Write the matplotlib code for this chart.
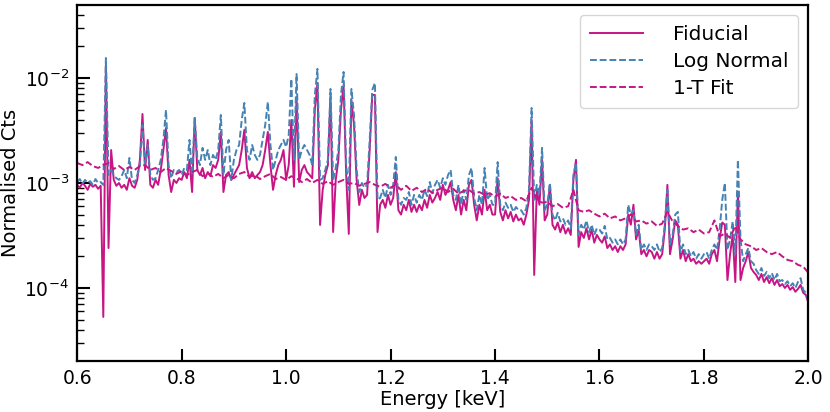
import numpy as np
import matplotlib
matplotlib.use("Agg")
import matplotlib.pyplot as plt

# energy grid of the spectra (keV), 5 eV steps for the two model spectra
energy = np.round(np.arange(0.600, 2.0001, 0.005), 3)
# 1-T fit read on a coarser 10 eV grid
energy_fit = np.round(np.arange(0.60, 2.0001, 0.01), 2)

fiducial = [
    9.6e-4, 9.0e-4, 1.0e-3, 9.4e-4, 8.6e-4, 9.8e-4, 9.2e-4, 9.6e-4, 8.8e-4, 9.4e-4,
    5.3e-5, 1.42e-2, 2.4e-4, 2.06e-3, 1.07e-3, 9.4e-4, 1.0e-3, 9.0e-4, 9.6e-4, 8.6e-4,
    1.11e-3, 9.4e-4, 9.0e-4, 1.07e-3, 1.66e-3, 4.54e-3, 1.33e-3, 2.57e-3, 9.6e-4, 9.0e-4,
    1.07e-3, 9.6e-4, 1.33e-3, 2.06e-3, 3.34e-3, 1.19e-3, 8.2e-4, 1.07e-3, 1.0e-3, 1.11e-3,
    1.07e-3, 1.27e-3, 1.11e-3, 1.66e-3, 8.2e-4, 4.16e-3, 1.33e-3, 1.19e-3, 1.39e-3, 1.11e-3,
    1.27e-3, 1.16e-3, 1.48e-3, 1.39e-3, 1.66e-3, 3.06e-3, 8.2e-4, 1.19e-3, 1.27e-3, 1.07e-3,
    1.19e-3, 1.33e-3, 1.48e-3, 2.06e-3, 3.20e-3, 1.39e-3, 1.11e-3, 1.27e-3, 1.11e-3, 1.19e-3,
    1.27e-3, 1.48e-3, 2.06e-3, 3.06e-3, 1.48e-3, 8.6e-4, 1.19e-3, 1.48e-3, 1.66e-3, 2.06e-3,
    1.07e-3, 1.48e-3, 3.98e-3, 9.2e-4, 6.59e-3, 1.02e-3, 1.33e-3, 1.48e-3, 1.27e-3, 1.19e-3,
    1.11e-3, 4.96e-3, 8.96e-3, 3.98e-4, 8.6e-4, 1.19e-3, 1.48e-3, 6.74e-3, 3.41e-4, 1.07e-3,
    1.66e-3, 4.96e-3, 8.58e-3, 1.19e-3, 3.27e-4, 6.17e-3, 3.57e-3, 1.07e-3, 6.17e-4, 8.6e-4,
    7.2e-4, 7.7e-4, 2.06e-3, 6.89e-3, 6.89e-3, 3.41e-4, 6.2e-4, 6.9e-4, 5.8e-4, 7.7e-4,
    6.2e-4, 7.2e-4, 1.27e-3, 5.5e-4, 5.0e-4, 6.2e-4, 5.5e-4, 6.9e-4, 5.3e-4, 6.2e-4,
    5.3e-4, 6.2e-4, 5.5e-4, 6.9e-4, 5.8e-4, 7.7e-4, 6.5e-4, 7.2e-4, 8.2e-4, 6.9e-4,
    9.6e-4, 7.7e-4, 8.6e-4, 1.02e-3, 6.9e-4, 5.5e-4, 7.7e-4, 5.0e-4, 6.9e-4, 5.5e-4,
    9.6e-4, 1.07e-3, 6.2e-4, 4.4e-4, 6.2e-4, 5.0e-4, 8.6e-4, 5.5e-4, 6.2e-4, 5.0e-4,
    5.0e-4, 1.11e-3, 5.3e-4, 4.4e-4, 5.5e-4, 4.6e-4, 5.3e-4, 4.3e-4, 5.0e-4, 4.4e-4,
    4.6e-4, 4.0e-4, 5.0e-4, 6.9e-4, 3.98e-3, 1.33e-4, 8.6e-4, 6.2e-4, 1.66e-3, 4.4e-4,
    5.0e-4, 9.6e-4, 4.0e-4, 3.6e-4, 4.2e-4, 3.4e-4, 4.0e-4, 3.3e-4, 3.7e-4, 3.2e-4,
    1.07e-3, 1.66e-3, 2.46e-4, 3.4e-4, 3.0e-4, 3.7e-4, 2.9e-4, 3.6e-4, 2.7e-4, 3.2e-4,
    2.9e-4, 2.7e-4, 3.1e-4, 2.4e-4, 2.6e-4, 2.3e-4, 2.5e-4, 2.2e-4, 2.5e-4, 2.3e-4,
    2.6e-4, 5.0e-4, 4.0e-4, 6.2e-4, 2.9e-4, 3.6e-4, 2.1e-4, 2.3e-4, 2.0e-4, 2.3e-4,
    2.2e-4, 1.9e-4, 2.2e-4, 1.9e-4, 2.1e-4, 3.6e-4, 9.6e-4, 2.1e-4, 2.9e-4, 4.4e-4,
    4.0e-4, 1.9e-4, 2.3e-4, 1.8e-4, 2.1e-4, 1.8e-4, 1.9e-4, 1.7e-4, 1.8e-4, 1.7e-4,
    1.8e-4, 1.9e-4, 1.7e-4, 2.1e-4, 2.3e-4, 1.8e-4, 2.9e-4, 4.2e-4, 4.0e-4, 1.19e-4,
    2.1e-4, 3.2e-4, 1.14e-4, 8.2e-4, 1.19e-4, 1.55e-4, 1.8e-4, 2.2e-4, 1.55e-4, 1.42e-4,
    1.33e-4, 1.19e-4, 1.36e-4, 1.14e-4, 1.27e-4, 1.11e-4, 1.24e-4, 1.07e-4, 1.19e-4, 1.04e-4,
    1.09e-4, 1.0e-4, 1.07e-4, 9.6e-5, 1.02e-4, 9.2e-5, 9.8e-5, 1.07e-4, 9.0e-5, 8.6e-5,
    7.2e-5,
]

log_normal = [
    1.02e-3, 1.09e-3, 9.8e-4, 1.07e-3, 1.0e-3, 1.04e-3, 9.6e-4, 1.09e-3, 1.0e-3, 1.02e-3,
    9.6e-4, 1.55e-2, 1.19e-3, 1.33e-3, 1.19e-3, 1.11e-3, 1.07e-3, 1.16e-3, 1.33e-3, 1.11e-3,
    1.73e-3, 1.07e-3, 1.0e-3, 1.19e-3, 1.48e-3, 3.57e-3, 1.48e-3, 2.30e-3, 1.19e-3, 1.07e-3,
    1.11e-3, 1.33e-3, 1.66e-3, 2.57e-3, 4.96e-3, 1.48e-3, 1.11e-3, 1.33e-3, 1.27e-3, 1.33e-3,
    1.19e-3, 1.39e-3, 1.33e-3, 2.57e-3, 1.19e-3, 4.16e-3, 1.73e-3, 1.48e-3, 2.16e-3, 1.66e-3,
    2.06e-3, 1.48e-3, 1.85e-3, 1.66e-3, 2.06e-3, 4.44e-3, 1.19e-3, 2.06e-3, 2.57e-3, 1.07e-3,
    1.66e-3, 2.06e-3, 2.30e-3, 3.98e-3, 5.78e-3, 2.06e-3, 1.66e-3, 2.30e-3, 1.85e-3, 1.66e-3,
    1.85e-3, 2.57e-3, 3.57e-3, 5.91e-3, 2.30e-3, 1.33e-3, 1.66e-3, 2.06e-3, 2.30e-3, 2.57e-3,
    2.20e-3, 2.86e-3, 9.78e-3, 1.66e-3, 1.09e-2, 1.66e-3, 2.06e-3, 2.30e-3, 2.06e-3, 1.85e-3,
    1.48e-3, 6.89e-3, 1.22e-2, 1.07e-3, 1.11e-3, 1.33e-3, 1.66e-3, 7.86e-3, 1.07e-3, 1.39e-3,
    2.06e-3, 6.89e-3, 1.14e-2, 1.48e-3, 8.6e-4, 7.86e-3, 4.44e-3, 1.33e-3, 8.2e-4, 1.0e-3,
    9.0e-4, 9.6e-4, 2.57e-3, 7.69e-3, 8.96e-3, 6.9e-4, 7.2e-4, 8.6e-4, 7.2e-4, 9.6e-4,
    7.7e-4, 9.6e-4, 1.77e-3, 6.9e-4, 6.2e-4, 7.2e-4, 6.9e-4, 8.2e-4, 6.2e-4, 7.7e-4,
    6.5e-4, 7.7e-4, 6.9e-4, 8.6e-4, 7.5e-4, 1.02e-3, 8.0e-4, 9.6e-4, 1.07e-3, 9.0e-4,
    1.11e-3, 9.6e-4, 1.19e-3, 1.33e-3, 7.7e-4, 6.9e-4, 9.6e-4, 6.2e-4, 8.6e-4, 6.9e-4,
    1.19e-3, 1.39e-3, 7.2e-4, 5.5e-4, 7.7e-4, 6.2e-4, 1.39e-3, 6.9e-4, 7.7e-4, 6.2e-4,
    6.2e-4, 1.58e-3, 6.2e-4, 5.5e-4, 6.5e-4, 5.8e-4, 6.2e-4, 5.3e-4, 5.9e-4, 5.5e-4,
    5.5e-4, 5.0e-4, 5.8e-4, 8.6e-4, 5.18e-3, 6.9e-4, 9.6e-4, 7.7e-4, 2.16e-3, 5.5e-4,
    6.2e-4, 1.0e-3, 5.0e-4, 4.4e-4, 5.2e-4, 4.3e-4, 4.6e-4, 4.0e-4, 4.4e-4, 3.7e-4,
    1.19e-3, 1.55e-3, 3.2e-4, 4.0e-4, 3.6e-4, 4.4e-4, 3.4e-4, 4.0e-4, 3.2e-4, 3.7e-4,
    3.6e-4, 3.3e-4, 3.9e-4, 2.9e-4, 3.0e-4, 2.7e-4, 2.9e-4, 2.6e-4, 2.9e-4, 2.6e-4,
    2.9e-4, 6.2e-4, 5.0e-4, 5.5e-4, 3.2e-4, 4.0e-4, 2.3e-4, 2.6e-4, 2.3e-4, 2.6e-4,
    2.5e-4, 2.3e-4, 2.6e-4, 2.2e-4, 2.4e-4, 4.0e-4, 8.6e-4, 2.6e-4, 3.2e-4, 5.0e-4,
    5.3e-4, 2.2e-4, 2.6e-4, 2.1e-4, 2.3e-4, 2.0e-4, 2.2e-4, 1.9e-4, 2.1e-4, 1.9e-4,
    2.1e-4, 2.2e-4, 1.9e-4, 2.3e-4, 2.6e-4, 2.3e-4, 3.6e-4, 6.9e-4, 1.0e-3, 2.3e-4,
    2.9e-4, 4.3e-4, 2.1e-4, 1.66e-3, 2.9e-4, 1.8e-4, 2.1e-4, 2.4e-4, 1.8e-4, 1.7e-4,
    1.48e-4, 1.36e-4, 1.55e-4, 1.30e-4, 1.42e-4, 1.24e-4, 1.39e-4, 1.19e-4, 1.36e-4, 1.16e-4,
    1.19e-4, 1.09e-4, 1.16e-4, 1.04e-4, 1.11e-4, 1.0e-4, 1.14e-4, 1.24e-4, 9.6e-5, 9.0e-5,
    7.7e-5,
]

one_t_fit = [
    1.55e-3, 1.48e-3, 1.58e-3, 1.45e-3, 1.39e-3, 1.48e-3, 1.55e-3, 1.36e-3, 1.45e-3, 1.33e-3,
    1.42e-3, 1.33e-3, 1.45e-3, 1.48e-3, 1.33e-3, 1.39e-3, 1.27e-3, 1.39e-3, 1.30e-3, 1.22e-3,
    1.30e-3, 1.19e-3, 1.27e-3, 1.33e-3, 1.16e-3, 1.24e-3, 1.14e-3, 1.22e-3, 1.11e-3, 1.19e-3,
    1.11e-3, 1.22e-3, 1.27e-3, 1.14e-3, 1.19e-3, 1.09e-3, 1.16e-3, 1.22e-3, 1.09e-3, 1.14e-3,
    1.07e-3, 1.16e-3, 1.11e-3, 1.02e-3, 1.09e-3, 1.0e-3, 1.07e-3, 9.8e-4, 1.04e-3, 9.6e-4,
    1.02e-3, 1.07e-3, 9.8e-4, 1.0e-3, 9.4e-4, 9.8e-4, 1.02e-3, 9.6e-4, 9.2e-4, 9.8e-4,
    9.0e-4, 9.6e-4, 8.6e-4, 9.4e-4, 8.4e-4, 9.0e-4, 8.2e-4, 8.8e-4, 8.0e-4, 8.6e-4,
    9.0e-4, 8.2e-4, 8.8e-4, 7.9e-4, 8.4e-4, 8.6e-4, 7.9e-4, 8.2e-4, 7.7e-4, 8.0e-4,
    7.4e-4, 7.9e-4, 7.2e-4, 7.5e-4, 6.9e-4, 7.2e-4, 6.7e-4, 9.0e-4, 6.9e-4, 6.5e-4,
    6.6e-4, 6.0e-4, 6.3e-4, 5.8e-4, 6.0e-4, 8.6e-4, 5.5e-4, 5.3e-4, 5.5e-4, 5.1e-4,
    4.8e-4, 5.1e-4, 4.6e-4, 4.8e-4, 4.4e-4, 4.6e-4, 5.0e-4, 4.3e-4, 4.4e-4, 4.1e-4,
    4.3e-4, 3.9e-4, 4.1e-4, 5.3e-4, 4.3e-4, 3.9e-4, 3.6e-4, 3.7e-4, 3.4e-4, 3.6e-4,
    3.3e-4, 3.4e-4, 4.4e-4, 3.1e-4, 3.3e-4, 3.0e-4, 3.9e-4, 2.9e-4, 2.6e-4, 2.5e-4,
    2.3e-4, 2.4e-4, 2.2e-4, 2.1e-4, 2.2e-4, 2.0e-4, 1.85e-4, 1.8e-4, 1.66e-4, 1.6e-4,
    1.39e-4,
]

magenta = "#c71585"
blue = "#4682b4"

fig = plt.figure(figsize=(8.3, 4.12), dpi=100)
ax = fig.add_axes([0.093, 0.124, 0.881, 0.864])

ax.plot(energy, fiducial, color=magenta, lw=1.4, label="Fiducial")
ax.plot(energy, log_normal, color=blue, lw=1.4, ls="--", dashes=(3.5, 1.5), label="Log Normal")
ax.plot(energy_fit, one_t_fit, color=magenta, lw=1.4, ls="--", dashes=(3.5, 1.5), label="1-T Fit")

ax.set_yscale("log")
ax.set_xlim(0.6, 2.0)
ax.set_ylim(2.02e-5, 4.96e-2)
ax.set_xticks([0.6, 0.8, 1.0, 1.2, 1.4, 1.6, 1.8, 2.0])
ax.set_xlabel("Energy [keV]", fontsize=14, labelpad=1)
ax.set_ylabel("Normalised Cts", fontsize=14, labelpad=3)

ax.tick_params(which="major", direction="in", length=9, width=1.5, labelsize=13.5, pad=6)
ax.tick_params(which="minor", direction="in", length=5, width=1.0)
ax.tick_params(axis="x", which="minor", bottom=False)
for s in ax.spines.values():
    s.set_linewidth(1.6)

ax.legend(loc="upper right", fontsize=14.5, handlelength=2.6, handletextpad=1.5,
          borderpad=0.5, labelspacing=0.4, fancybox=True, framealpha=0.8)

fig.savefig("out.png", dpi=100)
